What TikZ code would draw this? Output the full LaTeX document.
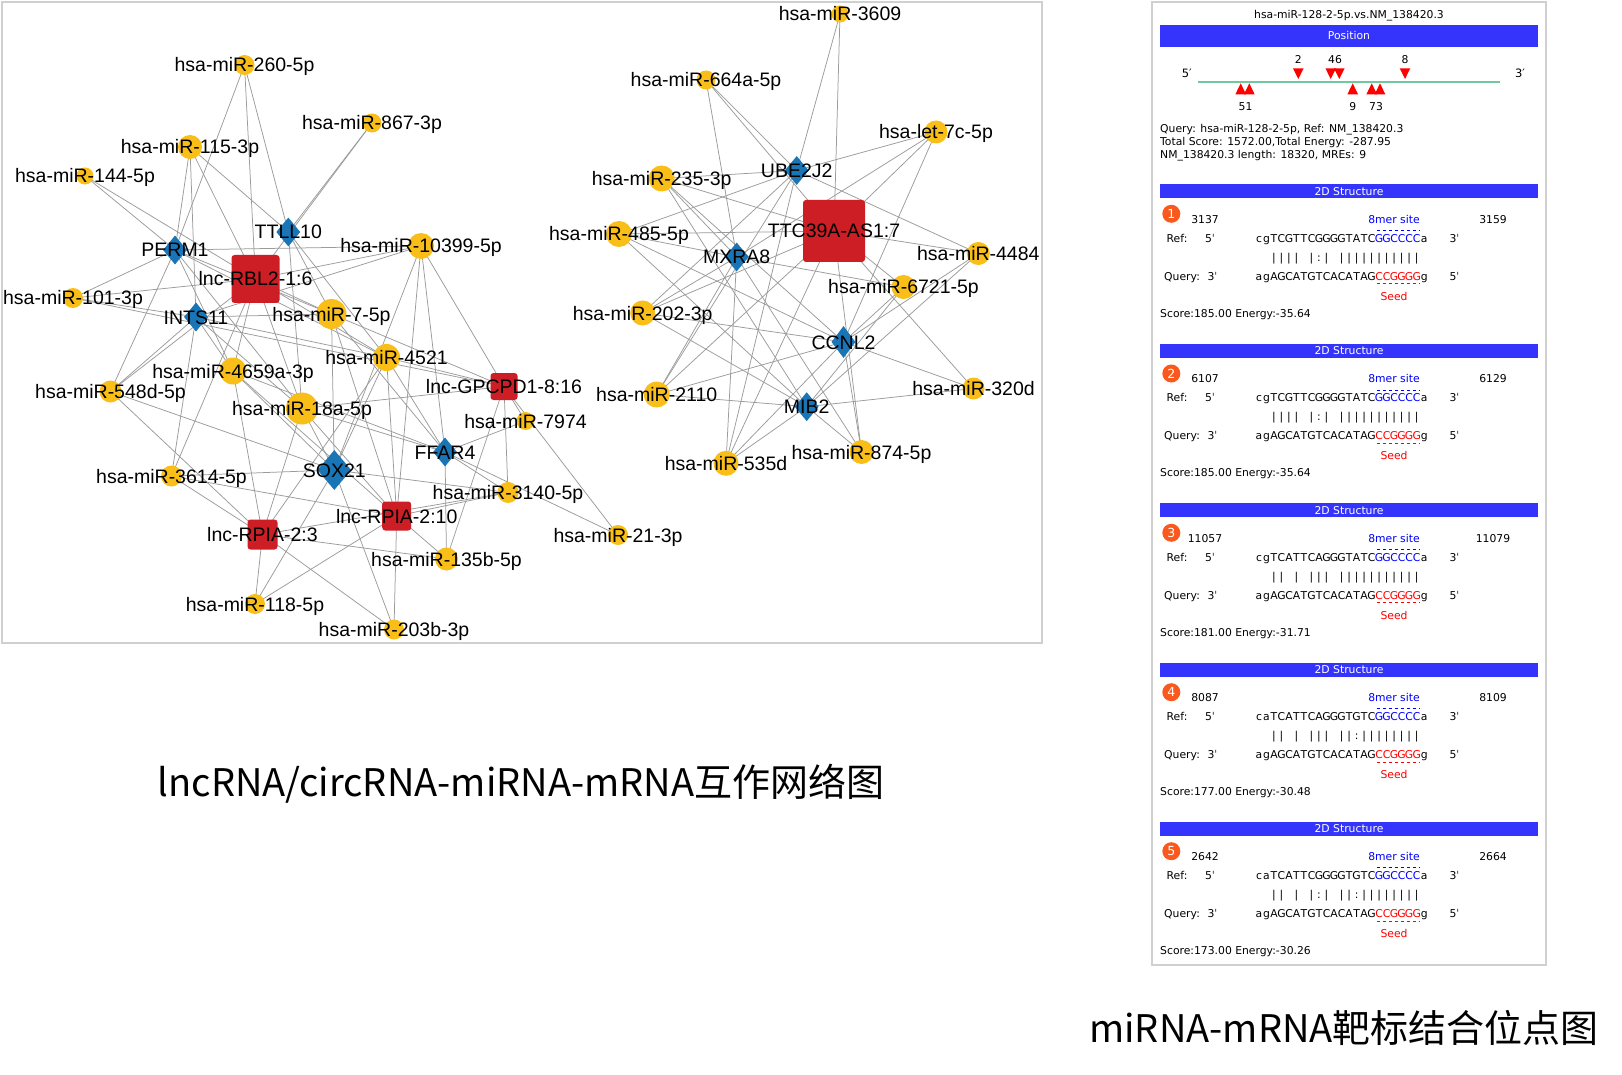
\documentclass[tikz,border=0pt]{standalone}
\usepackage{fontspec}
\setmainfont{Liberation Sans}
\newfontfamily\dvfont{DejaVu Sans}
\newfontfamily\cjkfont{Noto Sans CJK SC}
\usetikzlibrary{shapes.geometric}
\pgfdeclarelayer{edgelayer}
\pgfsetlayers{edgelayer,main}
\definecolor{mirc}{RGB}{249,190,24}
\definecolor{mrnac}{RGB}{26,117,182}
\definecolor{lncc}{RGB}{205,30,38}
\definecolor{edgec}{RGB}{155,155,155}
\definecolor{barblue}{RGB}{52,52,252}
\definecolor{numc}{RGB}{250,88,28}
\definecolor{poslinec}{RGB}{110,200,160}
\definecolor{framec}{RGB}{208,208,208}
\newdimen\seqpitch \seqpitch=7.51pt
\makeatletter
\def\sq@dot{.}
\newcommand\seqspread[1]{\@tfor\sq@c:=#1\do{\makebox[\seqpitch][c]{\ifx\sq@c\sq@dot\else\sq@c\fi}}}
\makeatother
\tikzset{
  mirn/.style={circle, fill=mirc, draw=none, inner sep=0pt, minimum size=#1},
  mrnad/.style={diamond, fill=mrnac, draw=none, inner sep=0pt, minimum width=24pt, minimum height=29pt},
  lncsq/.style={rectangle, rounded corners=3pt, fill=lncc, draw=none, inner sep=0pt, minimum size=#1},
  netlab/.style={font=\fontsize{19.5}{20}\selectfont, text=black, inner sep=0pt, text height=14pt, text depth=0pt, anchor=center},
  edgeline/.style={draw=edgec, line width=0.75pt},
  dvtext/.style={font=\dvfont\fontsize{10.8}{12}\selectfont, text=black, inner sep=0pt, text height=7.9pt, text depth=0pt},
  barstyle/.style={fill=barblue, text=white, inner sep=0pt, minimum width=378pt, font=\dvfont\fontsize{10.8}{12}\selectfont, text height=7.9pt, text depth=0pt},
  numcirc/.style={circle, fill=numc, text=white, inner sep=0pt, minimum size=18pt, font=\dvfont\fontsize{12.5}{13}\selectfont},
  capt/.style={font=\cjkfont\fontsize{38}{42}\selectfont, text=black, inner sep=0pt, text height=27.5pt, text depth=0pt},
  tri/.style={fill=red, draw=none}
}
\newcommand\mirblock[8]{%
  \node[barstyle, minimum height=14pt] (bar#1) at (1349,#2+7) {2D Structure};
  \node[numcirc] (nc#1) at (1171.3,#2+29.5) {#1};
  \node[dvtext] (ln#1) at (1205,#2+35) {#3};
  \node[dvtext, text=blue] (site#1) at (1394,#2+35) {8mer site};
  \node[dvtext] (rn#1) at (1493,#2+35) {#4};
  \node[dvtext, anchor=west] (reflab#1) at (1166.5,#2+54) {Ref:};
  \node[dvtext] (rfive#1) at (1210,#2+54) {5ˈ};
  \node[dvtext, anchor=west] (rseq#1) at (1255,#2+54) {\seqspread{#5}\textcolor{blue}{\seqspread{GGCCCC}}\seqspread{a}};
  \node[dvtext] (rthree#1) at (1454.5,#2+54) {3ˈ};
  \draw[blue, line width=0.7pt, dash pattern=on 3pt off 3pt] (1376.5,#2+46) -- (1420,#2+46);
  \node[dvtext, anchor=west] (pr#1) at (1255,#2+73) {\seqspread{#6}};
  \node[dvtext, anchor=west] (qlab#1) at (1164,#2+92) {Query:};
  \node[dvtext] (qthree#1) at (1212.5,#2+92) {3ˈ};
  \node[dvtext, anchor=west] (qseq#1) at (1255,#2+92) {\seqspread{agAGCATGTCACATAG}\textcolor{red}{\seqspread{CCGGGG}}\seqspread{g}};
  \node[dvtext] (qfive#1) at (1454.5,#2+92) {5ˈ};
  \draw[red, line width=0.7pt, dash pattern=on 3pt off 3pt] (1376.5,#2+99.5) -- (1420,#2+99.5);
  \node[dvtext, text=red] (seed#1) at (1394,#2+112) {Seed};
  \node[dvtext, anchor=west] (score#1) at (1160,#2+129) {Score:#7 Energy:#8};
}
\begin{document}
\begin{tikzpicture}[x=1pt, y=-1pt]
\useasboundingbox (0,0) rectangle (1622,1075);
% ---------------- network nodes (shapes) ----------------
% left cluster: miRNAs
\node[mirn=20pt] (a260) at (244.5,65) {};
\node[mirn=19pt] (a867) at (372,123) {};
\node[mirn=24pt] (a115) at (190,147) {};
\node[mirn=17pt] (a144) at (85,176) {};
\node[mirn=26pt] (a10399) at (421,246) {};
\node[mirn=20pt] (a101) at (73,298) {};
\node[mirn=30pt] (a75) at (331.5,314) {};
\node[mirn=27pt] (a4659) at (233,371) {};
\node[mirn=27pt] (a4521) at (386.5,357.5) {};
\node[mirn=22pt] (a548) at (110.5,391.5) {};
\node[mirn=32pt] (a18a) at (302,408.5) {};
\node[mirn=18pt] (a7974) at (525.5,421) {};
\node[mirn=21pt] (a3614) at (171.5,476) {};
\node[mirn=21pt] (a3140) at (508,492.5) {};
\node[mirn=23pt] (a135b) at (446.5,559) {};
\node[mirn=20pt] (a118) at (255,604) {};
\node[mirn=20pt] (a203b) at (394,629.5) {};
\node[mirn=20pt] (a213) at (618,535) {};
% left cluster: mRNAs
\node[mrnad] (TTLL) at (288.3,232) {};
\node[mrnad] (PERM) at (175,250) {};
\node[mrnad] (INTS) at (196,317) {};
\node[mrnad, minimum width=34pt, minimum height=40pt] (SOX) at (334.3,470) {};
\node[mrnad] (FFAR) at (445,452) {};
% left cluster: lncRNAs
\node[lncsq=48pt] (RBL) at (255.5,279) {};
\node[lncsq=27pt] (GPC) at (504,386.5) {};
\node[lncsq=29pt] (RPten) at (396.7,516) {};
\node[lncsq=30pt] (RPthree) at (262.5,534.5) {};
% right cluster
\node[mirn=17pt] (a3609) at (840,14) {};
\node[mirn=19pt] (a664) at (706,80) {};
\node[mirn=23pt] (alet) at (936,132) {};
\node[mirn=26pt] (a235) at (661.7,178.5) {};
\node[mirn=26pt] (a485) at (619,234) {};
\node[mirn=23pt] (a4484) at (978.3,253.5) {};
\node[mirn=24pt] (a6721) at (903.5,287) {};
\node[mirn=25pt] (a202) at (642.7,313) {};
\node[mirn=26pt] (a2110) at (656.7,394.5) {};
\node[mirn=22pt] (a320) at (973.5,388.5) {};
\node[mirn=25pt] (a535) at (726,463.3) {};
\node[mirn=24pt] (a874) at (861.5,452) {};
\node[mrnad] (UBE) at (796.7,170.5) {};
\node[mrnad] (MXRA) at (736.7,257) {};
\node[mrnad, minimum height=32pt] (CCNL) at (843.5,342) {};
\node[mrnad] (MIB) at (806.7,406.7) {};
\node[lncsq=62pt] (TTC) at (834,231) {};
% ---------------- edges ----------------
\begin{pgfonlayer}{edgelayer}
\fill[white] (0,0) rectangle (1622,1075);
\foreach \a/\b in {a260/PERM, a260/RBL, a260/TTLL, a867/TTLL, a867/RBL,
  a115/PERM, a115/INTS, a115/RBL, a115/TTLL, a144/PERM, a144/RBL,
  a101/PERM, a101/RBL, a101/INTS, a101/GPC,
  a10399/PERM, a10399/RBL, a10399/INTS, a10399/SOX, a10399/RPten, a10399/FFAR, a10399/GPC,
  a75/TTLL, a75/RBL, a75/INTS, a75/PERM, a75/SOX, a75/RPten, a75/GPC, a75/FFAR,
  a4659/RBL, a4659/PERM, a4659/INTS, a4659/SOX, a4659/RPthree, a4659/RPten, a4659/FFAR,
  a4521/TTLL, a4521/RBL, a4521/INTS, a4521/SOX, a4521/RPten, a4521/RPthree, a4521/FFAR, a4521/GPC, a4521/PERM,
  a548/PERM, a548/INTS, a548/SOX, a548/RPthree, a548/RBL,
  a18a/RBL, a18a/PERM, a18a/TTLL, a18a/INTS, a18a/SOX, a18a/RPthree, a18a/RPten, a18a/FFAR, a18a/GPC,
  a7974/GPC, a7974/FFAR,
  a3614/SOX, a3614/RPten, a3614/RPthree, a3614/INTS, a3614/RBL,
  a3140/SOX, a3140/FFAR, a3140/GPC, a3140/RPten, a3140/RPthree,
  a135b/RPten, a135b/RPthree, a135b/FFAR, a135b/GPC,
  a118/RPthree, a118/SOX, a118/RPten,
  a203b/RPten, a203b/RPthree, a203b/SOX,
  a213/FFAR, a213/GPC,
  a3609/UBE, a3609/TTC, a664/MXRA, a664/UBE, a664/TTC,
  alet/UBE, alet/TTC, alet/MXRA, alet/CCNL,
  a235/UBE, a235/TTC, a235/MXRA, a235/MIB, a235/CCNL,
  a485/TTC, a485/UBE, a485/MXRA, a485/CCNL, a485/MIB,
  a4484/TTC, a4484/UBE, a4484/CCNL, a4484/MIB,
  a6721/TTC, a6721/MXRA, a6721/CCNL, a6721/MIB,
  a202/UBE, a202/MXRA, a202/TTC, a202/CCNL, a202/MIB,
  a2110/MXRA, a2110/UBE, a2110/TTC, a2110/CCNL, a2110/MIB,
  a320/CCNL, a320/MIB, a320/TTC,
  a535/MXRA, a535/UBE, a535/TTC, a535/CCNL, a535/MIB,
  a874/MIB, a874/CCNL, a874/TTC, a874/MXRA}
  \draw[edgeline] (\a.center) -- (\b.center);
\end{pgfonlayer}
% network frame
\draw[framec, line width=1.5pt] (2,2) rectangle (1042,643);
% ---------------- network labels ----------------
\node[netlab] (l260) at (a260) {hsa-miR-260-5p};
\node[netlab] (l867) at (a867) {hsa-miR-867-3p};
\node[netlab] (l115) at (a115) {hsa-miR-115-3p};
\node[netlab] (l144) at (a144) {hsa-miR-144-5p};
\node[netlab] (l10399) at (a10399) {hsa-miR-10399-5p};
\node[netlab] (l101) at (a101) {hsa-miR-101-3p};
\node[netlab] (l75) at (a75) {hsa-miR-7-5p};
\node[netlab] (l4659) at (a4659) {hsa-miR-4659a-3p};
\node[netlab] (l4521) at (a4521) {hsa-miR-4521};
\node[netlab] (l548) at (a548) {hsa-miR-548d-5p};
\node[netlab] (l18a) at (a18a) {hsa-miR-18a-5p};
\node[netlab] (l7974) at (a7974) {hsa-miR-7974};
\node[netlab] (l3614) at (a3614) {hsa-miR-3614-5p};
\node[netlab] (l3140) at (a3140) {hsa-miR-3140-5p};
\node[netlab] (l135b) at (a135b) {hsa-miR-135b-5p};
\node[netlab] (l118) at (a118) {hsa-miR-118-5p};
\node[netlab] (l203b) at (a203b) {hsa-miR-203b-3p};
\node[netlab] (l213) at (a213) {hsa-miR-21-3p};
\node[netlab] (lTTLL) at (TTLL) {TTLL10};
\node[netlab] (lPERM) at (PERM) {PERM1};
\node[netlab] (lINTS) at (INTS) {INTS11};
\node[netlab] (lSOX) at (SOX) {SOX21};
\node[netlab] (lFFAR) at (FFAR) {FFAR4};
\node[netlab] (lRBL) at (RBL) {lnc-RBL2-1:6};
\node[netlab] (lGPC) at (GPC) {lnc-GPCPD1-8:16};
\node[netlab] (lRPten) at (RPten) {lnc-RPIA-2:10};
\node[netlab] (lRPthree) at (RPthree) {lnc-RPIA-2:3};
\node[netlab] (l3609) at (a3609) {hsa-miR-3609};
\node[netlab] (l664) at (a664) {hsa-miR-664a-5p};
\node[netlab] (llet) at (alet) {hsa-let-7c-5p};
\node[netlab] (l235) at (a235) {hsa-miR-235-3p};
\node[netlab] (l485) at (a485) {hsa-miR-485-5p};
\node[netlab] (l4484) at (a4484) {hsa-miR-4484};
\node[netlab] (l6721) at (a6721) {hsa-miR-6721-5p};
\node[netlab] (l202) at (a202) {hsa-miR-202-3p};
\node[netlab] (l2110) at (a2110) {hsa-miR-2110};
\node[netlab] (l320) at (a320) {hsa-miR-320d};
\node[netlab] (l535) at (a535) {hsa-miR-535d};
\node[netlab] (l874) at (a874) {hsa-miR-874-5p};
\node[netlab] (lUBE) at (UBE) {UBE2J2};
\node[netlab] (lMXRA) at (MXRA) {MXRA8};
\node[netlab] (lCCNL) at (CCNL) {CCNL2};
\node[netlab] (lMIB) at (MIB) {MIB2};
\node[netlab] (lTTC) at (TTC) {TTC39A-AS1:7};
% ---------------- right panel ----------------
\draw[framec, line width=1.5pt] (1152,2) rectangle (1546,965);
\node[dvtext] (ptitle) at (1349,15) {hsa-miR-128-2-5p.vs.NM\_138420.3};
\node[barstyle, minimum height=21.5pt] (posbar) at (1349,36) {Position};
\draw[poslinec, line width=1.2pt] (1198.3,82) -- (1500,82);
\node[dvtext, font=\dvfont\fontsize{11.5}{12}\selectfont] (pfive) at (1186.7,74) {5′};
\node[dvtext, font=\dvfont\fontsize{11.5}{12}\selectfont] (pthree) at (1520,74) {3′};
\foreach \px in {1298.3,1330.7,1339.3,1405}
  \fill[tri] (\px-5.3,68.3) -- (\px+5.3,68.3) -- (\px,79) -- cycle;
\foreach \px in {1240.7,1249.3,1352.7,1371.7,1380}
  \fill[tri] (\px-5.3,94.3) -- (\px+5.3,94.3) -- (\px,83.3) -- cycle;
\node[dvtext] (pd2) at (1298.3,59.3) {2};
\node[dvtext] (pd46) at (1335,59.3) {46};
\node[dvtext] (pd8) at (1405,59.3) {8};
\node[dvtext] (pu51) at (1245.5,106.7) {51};
\node[dvtext] (pu9) at (1352.7,106.7) {9};
\node[dvtext] (pu73) at (1376,106.7) {73};
\node[dvtext, anchor=west] (info1) at (1160,128.3) {Query: hsa-miR-128-2-5p, Ref: NM\_138420.3};
\node[dvtext, anchor=west] (info2) at (1160,141.7) {Total Score: 1572.00,Total Energy: -287.95};
\node[dvtext, anchor=west] (info3) at (1160,155) {NM\_138420.3 length: 18320, MREs: 9};
\mirblock{1}{184.3}{3137}{3159}{cgTCGTTCGGGGTATC}{..||||.|:|.|||||||||||.}{185.00}{-35.64}
\mirblock{2}{344}{6107}{6129}{cgTCGTTCGGGGTATC}{..||||.|:|.|||||||||||.}{185.00}{-35.64}
\mirblock{3}{503.3}{11057}{11079}{cgTCATTCAGGGTATC}{..||.|.|||.|||||||||||.}{181.00}{-31.71}
\mirblock{4}{662.7}{8087}{8109}{caTCATTCAGGGTGTC}{..||.|.|||.||:||||||||.}{177.00}{-30.48}
\mirblock{5}{821.7}{2642}{2664}{caTCATTCGGGGTGTC}{..||.|.|:|.||:||||||||.}{173.00}{-30.26}
% ---------------- captions ----------------
\node[capt] (cap1) at (521,783) {lncRNA/circRNA-miRNA-mRNA互作网络图};
\node[capt] (cap2) at (1344,1029) {miRNA-mRNA靶标结合位点图};
\end{tikzpicture}
\end{document}
